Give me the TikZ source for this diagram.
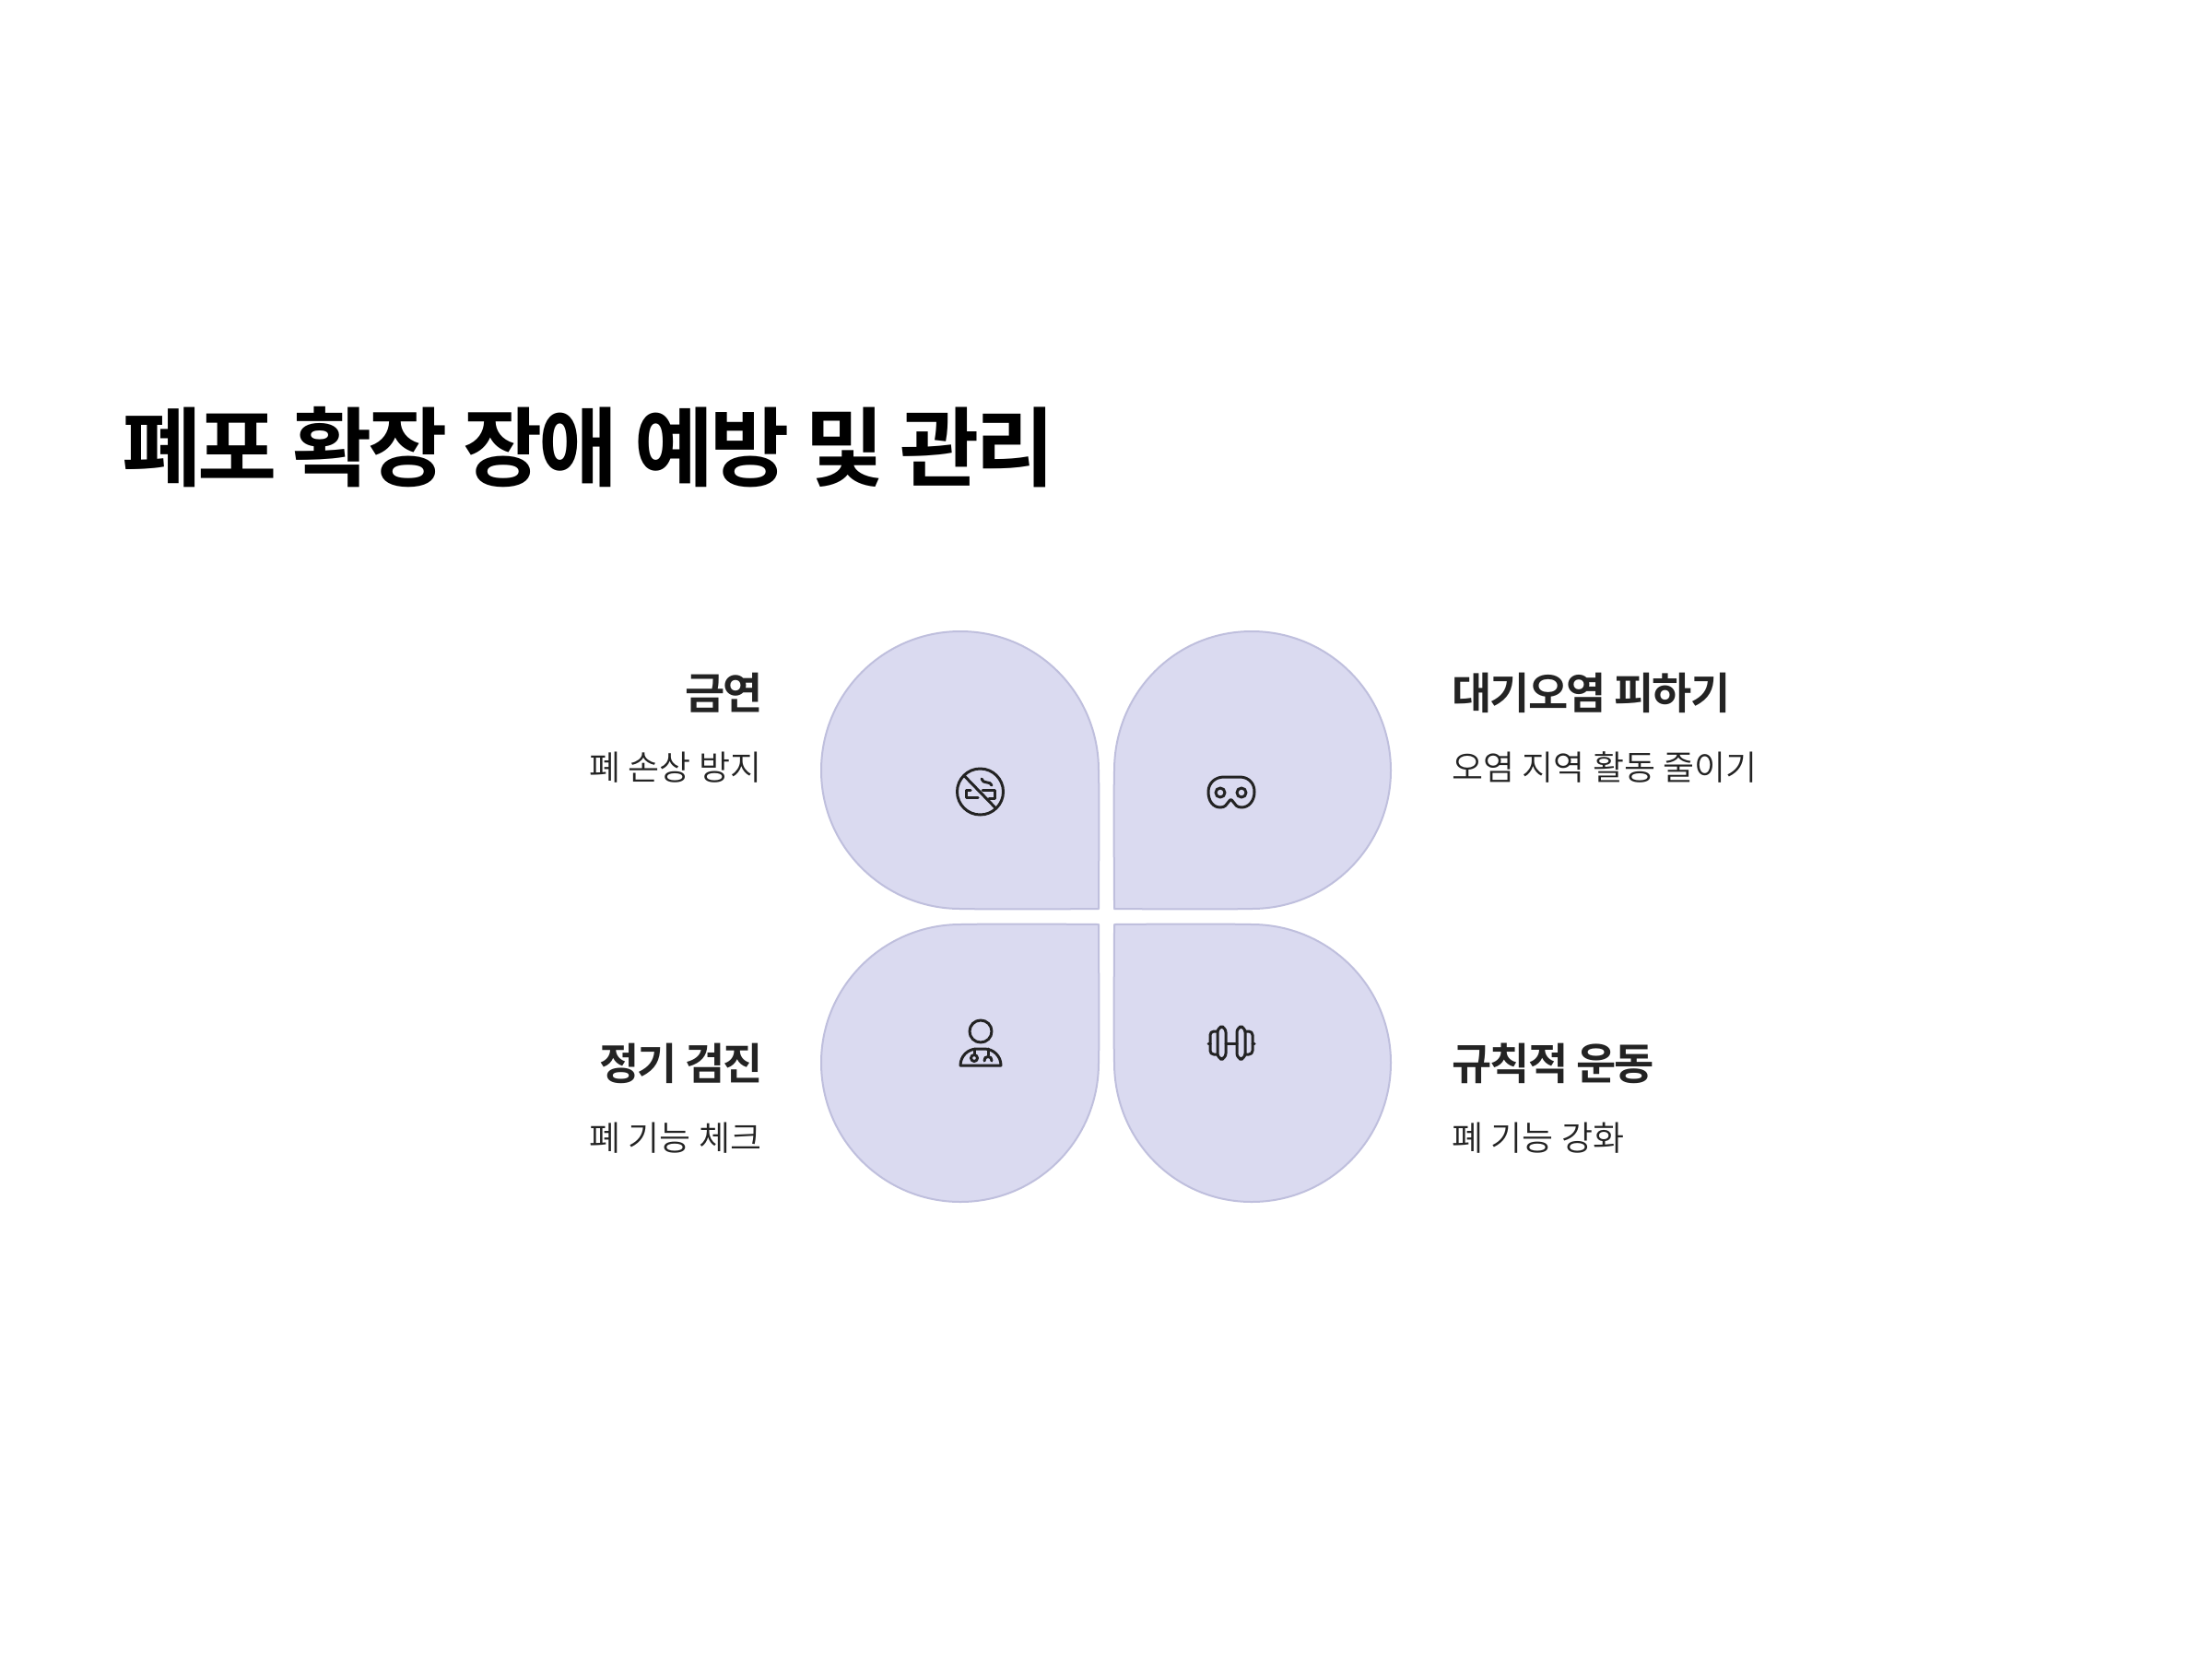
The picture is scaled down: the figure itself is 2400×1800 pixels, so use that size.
\documentclass[tikz,border=0pt]{standalone}
\usepackage{fontspec}
\setmainfont{Noto Sans CJK KR}
\newfontfamily\titlefont[LetterSpace=-4.5]{Noto Sans CJK KR Bold}
\newfontfamily\headfont[LetterSpace=-4]{Noto Sans CJK KR Bold}
\newfontfamily\subfont{Noto Sans CJK KR DemiLight}
\definecolor{petalfill}{HTML}{DADAF0}
\definecolor{petalline}{HTML}{BFBFDD}
\definecolor{inkc}{HTML}{232323}
\tikzset{
  petal/.style={fill=petalfill,draw=petalline,line width=1pt,line join=round},
  icon/.style={draw=inkc,line width=1.5pt,line cap=round,line join=round,fill=none},
  headl/.style={inner sep=0pt,text=inkc,font=\headfont\fontsize{23.5pt}{28pt}\selectfont},
  subl/.style={inner sep=0pt,text=inkc,font=\subfont\fontsize{18.5pt}{22pt}\selectfont},
}
\begin{document}
\begin{tikzpicture}[x=0.5pt,y=-0.5pt]
\useasboundingbox (0,0) rectangle (2400,1800);
\fill[white] (0,0) rectangle (2400,1800);
\node[anchor=base west,inner sep=0pt,text=black,font=\titlefont\fontsize{46.85pt}{56pt}\selectfont] (title) at (132,520) {폐포 확장 장애 예방 및 관리};
% petals
\path[petal] (1192,986) .. controls (1192,986) and (1090,987) .. (1042,986) .. controls (959,986) and (891,919) .. (891,836) .. controls (891,752) and (959,685) .. (1042,685) .. controls (1125,685) and (1192,752) .. (1192,836) .. controls (1193,880) and (1192,940) .. (1192,986) -- cycle;
\path[petal] (1209,986) .. controls (1209,986) and (1310,987) .. (1358,986) .. controls (1441,986) and (1509,919) .. (1509,836) .. controls (1509,752) and (1441,685) .. (1358,685) .. controls (1275,685) and (1209,752) .. (1209,836) .. controls (1208,880) and (1209,940) .. (1209,986) -- cycle;
\path[petal] (1192,1003) .. controls (1192,1003) and (1090,1002) .. (1042,1003) .. controls (959,1003) and (891,1070) .. (891,1153) .. controls (891,1237) and (959,1304) .. (1042,1304) .. controls (1125,1304) and (1192,1237) .. (1192,1153) .. controls (1193,1110) and (1192,1050) .. (1192,1003) -- cycle;
\path[petal] (1209,1003) .. controls (1209,1003) and (1310,1002) .. (1358,1003) .. controls (1441,1003) and (1509,1070) .. (1509,1153) .. controls (1509,1237) and (1441,1304) .. (1358,1304) .. controls (1275,1304) and (1209,1237) .. (1209,1153) .. controls (1208,1110) and (1209,1050) .. (1209,1003) -- cycle;
% labels
\node[headl,anchor=base east] (h1) at (828.5,769) {금연};
\node[subl,anchor=base east] (s1) at (826.5,846.5) {폐 손상 방지};
\node[headl,anchor=base west] (h2) at (1575,769) {대기오염 피하기};
\node[subl,anchor=base west] (s2) at (1575,846.5) {오염 지역 활동 줄이기};
\node[headl,anchor=base east] (h3) at (828.5,1171) {정기 검진};
\node[subl,anchor=base east] (s3) at (826.5,1248.5) {폐 기능 체크};
\node[headl,anchor=base west] (h4) at (1575,1171) {규칙적 운동};
\node[subl,anchor=base west] (s4) at (1575,1248.5) {폐 기능 강화};
% icon: no smoking
\draw[icon] (1063.5,859) circle[radius=25];
\draw[icon] (1046.5,842) -- (1080.5,877);
\draw[icon] (1061,865) -- (1048,865) -- (1048,857) -- (1053,857);
\draw[icon] (1066,857) -- (1079,857) -- (1079,866) -- (1073,866);
\draw[icon] (1065,845) .. controls (1066,851) and (1075,847) .. (1076,852);
% icon: mask
\draw[icon] (1328,843) -- (1345,843) .. controls (1355,843) and (1361,850) .. (1361,859) .. controls (1361,869) and (1355,876) .. (1347,876) .. controls (1342,876) and (1340,873) .. (1338,870) .. controls (1336,867) and (1335,867) .. (1333,870) .. controls (1331,873) and (1329,876) .. (1324,876) .. controls (1316,876) and (1311,869) .. (1311,859) .. controls (1311,850) and (1318,843) .. (1328,843) -- cycle;
\draw[icon] (1324,860) circle[radius=5];
\draw[icon] (1347,860) circle[radius=5];
% icon: doctor
\draw[icon] (1064,1119) circle[radius=12];
\draw[icon] (1042,1156) .. controls (1042,1146) and (1050,1138) .. (1060,1138) -- (1068,1138) .. controls (1078,1138) and (1086,1146) .. (1086,1156) -- cycle;
\draw[icon] (1057,1138) -- (1057,1144);
\draw[icon] (1057,1148) circle[radius=3.5];
\draw[icon] (1072,1138) -- (1072,1145);
\draw[icon] (1068,1151) .. controls (1067,1145) and (1077,1145) .. (1076,1151);
% icon: dumbbell
\draw[icon] (1330,1132) -- (1342,1132);
\draw[icon,rounded corners=3pt] (1321,1114) rectangle (1330,1149);
\draw[icon,rounded corners=3pt] (1342,1114) rectangle (1351,1149);
\draw[icon,rounded corners=2pt] (1321,1119) -- (1313,1119) -- (1313,1144) -- (1321,1144);
\draw[icon,rounded corners=2pt] (1351,1119) -- (1359,1119) -- (1359,1144) -- (1351,1144);
\draw[icon] (1311,1132) -- (1313,1132);
\draw[icon] (1359,1132) -- (1361,1132);
\end{tikzpicture}
\end{document}
